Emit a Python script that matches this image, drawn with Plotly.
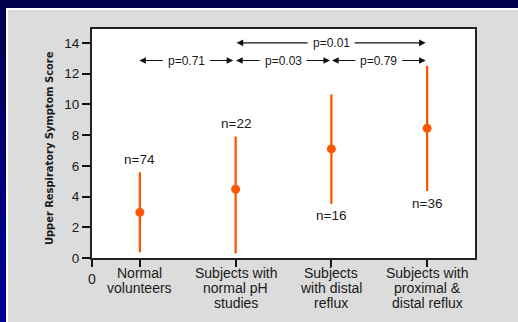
import plotly.graph_objects as go

# ---- data ----
categories = ["Normal<br>volunteers", "Subjects with<br>normal pH<br>studies",
              "Subjects<br>with distal<br>reflux", "Subjects with<br>proximal &<br>distal reflux"]
x_pos = [0.5, 1.5, 2.5, 3.5]
means = [2.97, 4.47, 7.10, 8.44]
upper = [5.58, 7.90, 10.65, 12.50]
lower = [0.37, 0.30, 3.52, 4.36]
n_labels = ["n=74", "n=22", "n=16", "n=36"]
n_label_y = [6.38, 8.72, 2.75, 3.56]
y_ticks = [0, 2, 4, 6, 8, 10, 12, 14]
# p-value comparisons
p_start = [1.51, 0.494, 1.504, 2.507]
p_end = [3.485, 1.475, 2.486, 3.485]
p_y = [14.0, 12.85, 12.85, 12.85]
p_text = ["p=0.01", "p=0.71", "p=0.03", "p=0.79"]

W, H = 518, 322
EXTRA = 10  # figure slightly larger than the window so no page edge shows
L, R, T, B = 92, 43, 29, 64
pw, ph = W - L - R, H - T - B

def px(xp):
    return (xp - L) / pw

def py(yp):
    return (H - B - yp) / ph

ORANGE = "#ff5500"
TXT = "#1a1a1a"
FONT = "Liberation Sans, Arial, Helvetica, sans-serif"
PANEL = "#dcdcdc"

fig = go.Figure()
fig.add_trace(go.Scatter(
    x=x_pos, y=means, mode="markers",
    marker=dict(size=9, color=ORANGE),
    error_y=dict(type="data", symmetric=False,
                 array=[u - m for u, m in zip(upper, means)],
                 arrayminus=[m - l for m, l in zip(means, lower)],
                 color=ORANGE, thickness=2.3, width=0),
    showlegend=False, hoverinfo="skip"))

shapes = []
# top navy strip
shapes.append(dict(type="rect", xref="paper", yref="paper", layer="below",
                   x0=px(0), x1=px(W + EXTRA), y0=py(8), y1=py(0),
                   fillcolor="#000050", line=dict(width=0)))
# left gradient strip
nb = 24
for i in range(nb):
    t = i / (nb - 1)
    b = int(0x50 + (0x9c - 0x50) * t)
    shapes.append(dict(type="rect", xref="paper", yref="paper", layer="below",
                       x0=px(0), x1=px(6), y0=py((i + 1) * (H + EXTRA) / nb + 1), y1=py(max(0, i * (H + EXTRA) / nb - 1)),
                       fillcolor=f"rgb(0,0,{b})", line=dict(width=0)))
# white border of the panel
shapes.append(dict(type="rect", xref="paper", yref="paper", layer="below",
                   x0=px(6), x1=px(8), y0=py(H + EXTRA), y1=py(8),
                   fillcolor="white", line=dict(width=0)))
shapes.append(dict(type="rect", xref="paper", yref="paper", layer="below",
                   x0=px(6), x1=px(W + EXTRA), y0=py(10), y1=py(8),
                   fillcolor="white", line=dict(width=0)))
# white plot area
shapes.append(dict(type="rect", xref="paper", yref="paper", layer="below",
                   x0=0, x1=1, y0=0, y1=1, fillcolor="white", line=dict(width=0)))

annotations = []
for x, y, t in zip(x_pos, n_label_y, n_labels):
    annotations.append(dict(x=x, y=y, xref="x", yref="y", text=t, showarrow=False,
                            font=dict(family=FONT, size=13.5, color=TXT)))
for xs, xe, y, t in zip(p_start, p_end, p_y, p_text):
    xc = (xs + xe) / 2
    annotations.append(dict(x=xc, y=y, xref="x", yref="y", text=t, showarrow=False,
                            font=dict(family=FONT, size=12, color=TXT)))
    for xend in (xs, xe):
        annotations.append(dict(x=xend, y=y, xref="x", yref="y", ax=xc, ay=y,
                                axref="x", ayref="y", text="", showarrow=True,
                                arrowhead=2, arrowsize=1.1, arrowwidth=1.2,
                                arrowcolor="#111111", startstandoff=22))
line_y = [273.3, 288.0, 302.7]
for x, c in zip(x_pos, categories):
    for j, line in enumerate(c.split("<br>")):
        annotations.append(dict(x=x, y=py(line_y[j]), xref="x", yref="paper", text=line,
                                showarrow=False, xanchor="center", yanchor="middle",
                                font=dict(family=FONT, size=14, color=TXT)))
annotations.append(dict(x=px(49), y=py(148), xref="paper", yref="paper",
                        text="<b>Upper Respiratory Symptom Score</b>", textangle=-90,
                        showarrow=False, xanchor="center", yanchor="middle",
                        font=dict(family="Liberation Sans Narrow, DejaVu Sans Condensed, Arial Narrow, sans-serif",
                                  size=11, color=TXT)))

fig.update_layout(
    width=W + EXTRA, height=H + EXTRA,
    margin=dict(l=L, r=R + EXTRA, t=T, b=B + EXTRA, pad=0),
    paper_bgcolor=PANEL, plot_bgcolor="white",
    shapes=shapes, annotations=annotations,
    xaxis=dict(range=[0, 4], tickvals=[0] + x_pos, ticktext=["0", "", "", "", ""],
               ticks="outside", ticklen=7, tickwidth=1.8, tickcolor="#111",
               showline=True, linecolor="#222", linewidth=2, mirror=True,
               showgrid=False, zeroline=False,
               tickfont=dict(family=FONT, size=14, color=TXT)),
    yaxis=dict(range=[0, 14.9], tickvals=y_ticks,
               ticks="outside", ticklen=8, tickwidth=1.8, tickcolor="#111",
               showline=True, linecolor="#222", linewidth=2, mirror=True,
               showgrid=False, zeroline=False,
               tickfont=dict(family=FONT, size=13.5, color=TXT)),
)

fig.write_html("out.html", config={"displayModeBar": False},
               post_script="document.body.style.margin='0';document.body.style.overflow='hidden';")
